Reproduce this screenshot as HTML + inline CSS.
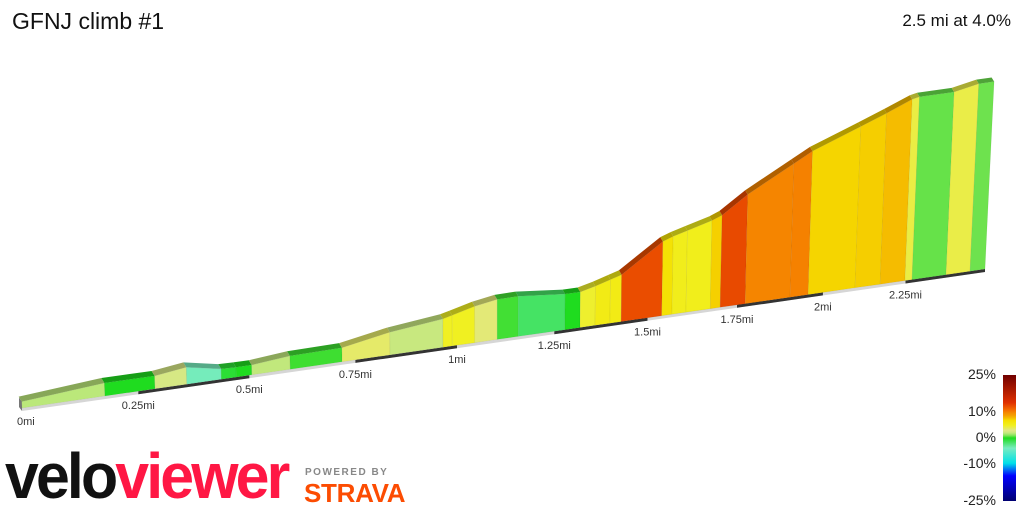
<!DOCTYPE html>
<html><head><meta charset="utf-8">
<style>
html,body{margin:0;padding:0;background:#fff;}
body{width:1024px;height:512px;overflow:hidden;position:relative;font-family:"Liberation Sans",sans-serif;}
#title{position:absolute;left:12px;top:8px;font-size:23px;color:#111;}
#summary{position:absolute;right:13px;top:11px;font-size:17px;color:#111;}
.lg{position:absolute;right:28px;font-size:14px;color:#222;}
#logo{position:absolute;left:5px;top:436px;font-size:64px;font-weight:bold;letter-spacing:-3px;transform:scaleX(0.95);transform-origin:left top;white-space:nowrap;line-height:80px;}
#pb{position:absolute;left:305px;top:467px;font-size:10px;letter-spacing:1.5px;color:#888;font-weight:bold;}
#strava{position:absolute;left:304px;top:478px;font-size:26px;font-weight:bold;color:#fc4c02;letter-spacing:-0.3px;}
</style></head><body>
<div id="title">GFNJ climb #1</div>
<div id="summary">2.5 mi at 4.0%</div>
<svg id="chart" width="1024" height="512" style="position:absolute;left:0;top:0"></svg>
<div class="lg" style="top:366px">25%</div>
<div class="lg" style="top:403px">10%</div>
<div class="lg" style="top:429px">0%</div>
<div class="lg" style="top:455px">-10%</div>
<div class="lg" style="top:492px">-25%</div>
<div id="logo"><span style="color:#111">velo</span><span style="color:#ff1744">viewer</span></div>
<div id="pb">POWERED BY</div>
<div id="strava">STRAVA</div>
<script>
const dist=[0,.177,.287,.358,.436,.470,.506,.595,.718,.834,.965,.988,1.045,1.102,1.156,1.278,1.318,1.358,1.398,1.428,1.539,1.567,1.606,1.674,1.702,1.773,1.903,1.956,2.096,2.172,2.248,2.270,2.376,2.452,2.5];
const elev=[415,431,431,441,425,424,424,433,435,457,472,478,493,503,504,493,493,503,515,524,598,608,619,638,649,697,767,796,850,880,912,917,921,938,940];
const tickDist=[0,0.25,0.5,0.75,1,1.25,1.5,1.75,2,2.25];
const tickLabels=["0mi","0.25mi","0.5mi","0.75mi","1mi","1.25mi","1.5mi","1.75mi","2mi","2.25mi"];
const darkBands=[[0.25,0.5],[0.75,1],[1.25,1.5],[1.75,2],[2.25,2.5]];
const gradeStops=[-25,-15,-10,-4,0,1.5,3,5,7,8.5,10,11,14,25];
const colorStops=["#000070","#0000ff","#00e0e8","#78ecc0","#1fdc1f","#b5e878","#e0e888","#f0f020","#f5e000","#f5a800","#f58a00","#f57000","#e03000","#700000"];

const svg=document.getElementById('chart');
const NS='http://www.w3.org/2000/svg';
function xOf(d){return 22+476*d/(1+0.0943*d);}
function baseY(x){return 408-0.1443*(x-22);}
function persp(d){return 1/(1+0.0943*d);}
function hOf(e,d){return (e-400)/2.33*persp(d);}
function hex(c){return [parseInt(c.slice(1,3),16),parseInt(c.slice(3,5),16),parseInt(c.slice(5,7),16)];}
function colorOf(g,f){
  f=f||1;
  let i=0;
  while(i<gradeStops.length-2&&g>gradeStops[i+1])i++;
  let t=(g-gradeStops[i])/(gradeStops[i+1]-gradeStops[i]);t=Math.max(0,Math.min(1,t));
  const a=hex(colorStops[i]),b=hex(colorStops[i+1]);
  const c=a.map((v,k)=>Math.round((v+(b[k]-v)*t)*f));
  return 'rgb('+c.join(',')+')';
}
function topPt(d,e){const x=xOf(d),by=baseY(x),h=hOf(e,d);const lean=0.05*h*(x-500)/500;return [x+lean,by-h];}
function poly(pts,fill,name,stroke){
  const p=document.createElementNS(NS,'polygon');
  p.setAttribute('points',pts.map(q=>q[0].toFixed(1)+','+q[1].toFixed(1)).join(' '));
  p.setAttribute('fill',fill);
  if(stroke){p.setAttribute('stroke',stroke);p.setAttribute('stroke-width','0.6');}
  
  
  svg.appendChild(p);return p;
}
{
  const x0=xOf(0),x1=xOf(2.5);
  poly([[x0,baseY(x0)],[x1,baseY(x1)],[x1,baseY(x1)+3],[x0,baseY(x0)+3]],'#d6d6d6','distance-band');
  darkBands.forEach(b=>{
    const a=xOf(b[0]),c=xOf(b[1]);
    poly([[a,baseY(a)],[c,baseY(c)],[c,baseY(c)+3],[a,baseY(a)+3]],'#333','distance-band-dark');
  });
}
{
  const t=topPt(0,elev[0]);const x=xOf(0),y=baseY(x);
  poly([[x,y+3],[x,t[1]],[x-3,t[1]-4],[x-3,y-1]],'#777','start-cap');
}
for(let i=0;i<dist.length-1;i++){
  const d1=dist[i],d2=dist[i+1],e1=elev[i],e2=elev[i+1];
  const g=(e2-e1)/((d2-d1)*5280)*100;
  const x1=xOf(d1),x2=xOf(d2);
  const t1=topPt(d1,e1),t2=topPt(d2,e2);
  poly([[x1,baseY(x1)],[t1[0],t1[1]],[t2[0],t2[1]],[x2,baseY(x2)]],colorOf(g),'segment-front','rgba(0,0,0,0.08)');
  const o1=[-3*persp(d1),-5*persp(d1)],o2=[-3*persp(d2),-5*persp(d2)];
  poly([t1,t2,[t2[0]+o2[0],t2[1]+o2[1]],[t1[0]+o1[0],t1[1]+o1[1]]],colorOf(g,0.72),'segment-top');
}
tickDist.forEach((d,i)=>{
  const x=xOf(d);
  const t=document.createElementNS(NS,'text');
  t.setAttribute('x',(i===0?x-5:x).toFixed(1));
  t.setAttribute('y',(baseY(x)+(i===0?17:18)).toFixed(1));
  t.setAttribute('text-anchor',i===0?'start':'middle');
  t.setAttribute('font-size','11');
  t.setAttribute('font-family','Liberation Sans, sans-serif');
  t.setAttribute('fill','#333');
  t.textContent=tickLabels[i];
  
  
  svg.appendChild(t);
});
{
  const defs=document.createElementNS(NS,'defs');
  const lg=document.createElementNS(NS,'linearGradient');
  lg.setAttribute('id','lgrad');lg.setAttribute('x1','0');lg.setAttribute('y1','0');lg.setAttribute('x2','0');lg.setAttribute('y2','1');
  for(let g=25;g>=-25;g-=1){
    const s=document.createElementNS(NS,'stop');
    s.setAttribute('offset',((25-g)/50).toFixed(3));
    s.setAttribute('stop-color',colorOf(g));
    lg.appendChild(s);
  }
  defs.appendChild(lg);svg.appendChild(defs);
  const r=document.createElementNS(NS,'rect');
  r.setAttribute('x','1003');r.setAttribute('y','375');r.setAttribute('width','13');r.setAttribute('height','126');
  r.setAttribute('fill','url(#lgrad)');
  
  
  svg.appendChild(r);
}
</script>
</body></html>
